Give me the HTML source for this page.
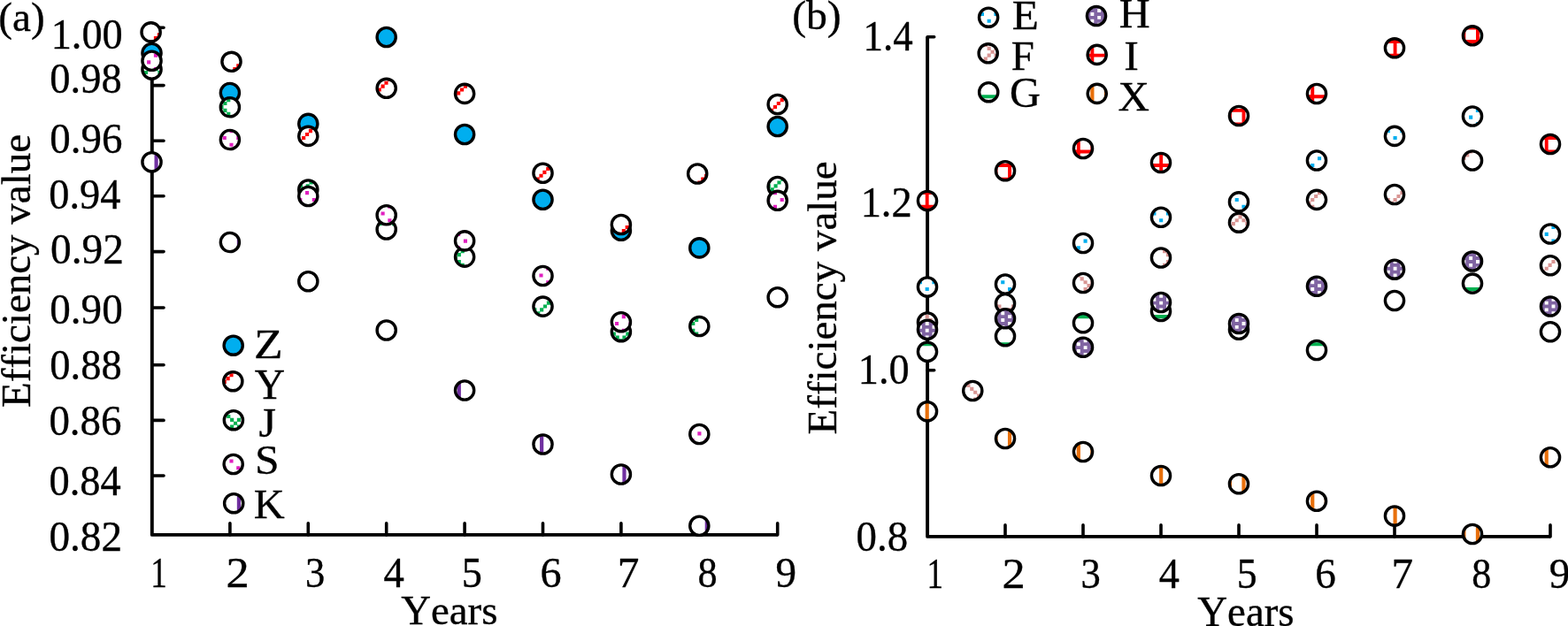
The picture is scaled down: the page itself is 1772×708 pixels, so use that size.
<!DOCTYPE html>
<html><head><meta charset="utf-8"><title>Efficiency value vs Years</title>
<style>
html,body{margin:0;padding:0;background:#fff;}
svg{display:block;}
text{font-family:"Liberation Serif",serif;font-size:47.0px;fill:#000;font-kerning:none;stroke:#000;stroke-width:0.35px;}
</style></head><body>
<svg width="1772" height="708" viewBox="0 0 1772 708">
<rect width="1772" height="708" fill="#fff"/>
<defs>
<clipPath id="c1"><circle cx="170.6" cy="36.4" r="10.6"/></clipPath>
<clipPath id="c2"><circle cx="261.5" cy="69.8" r="10.6"/></clipPath>
<clipPath id="c3"><circle cx="348.3" cy="153.9" r="10.6"/></clipPath>
<clipPath id="c4"><circle cx="436.7" cy="99.8" r="10.6"/></clipPath>
<clipPath id="c5"><circle cx="525.1" cy="105.9" r="10.6"/></clipPath>
<clipPath id="c6"><circle cx="613.5" cy="195.75" r="10.6"/></clipPath>
<clipPath id="c7"><circle cx="701.9" cy="254" r="10.6"/></clipPath>
<clipPath id="c8"><circle cx="788.2" cy="196.5" r="10.6"/></clipPath>
<clipPath id="c9"><circle cx="878.7" cy="118" r="10.6"/></clipPath>
<clipPath id="c10"><circle cx="171.5" cy="78.5" r="10.6"/></clipPath>
<clipPath id="c11"><circle cx="259.9" cy="121.25" r="10.6"/></clipPath>
<clipPath id="c12"><circle cx="348.3" cy="214.5" r="10.6"/></clipPath>
<clipPath id="c13"><circle cx="436.7" cy="259.5" r="10.6"/></clipPath>
<clipPath id="c14"><circle cx="525.1" cy="290.6" r="10.6"/></clipPath>
<clipPath id="c15"><circle cx="613.5" cy="346.6" r="10.6"/></clipPath>
<clipPath id="c16"><circle cx="701.9" cy="375.2" r="10.6"/></clipPath>
<clipPath id="c17"><circle cx="790.3" cy="369" r="10.6"/></clipPath>
<clipPath id="c18"><circle cx="878.7" cy="211" r="10.6"/></clipPath>
<clipPath id="c19"><circle cx="171.5" cy="68.75" r="10.6"/></clipPath>
<clipPath id="c20"><circle cx="259.9" cy="158" r="10.6"/></clipPath>
<clipPath id="c21"><circle cx="348.3" cy="222" r="10.6"/></clipPath>
<clipPath id="c22"><circle cx="436.7" cy="243.25" r="10.6"/></clipPath>
<clipPath id="c23"><circle cx="525.1" cy="272.4" r="10.6"/></clipPath>
<clipPath id="c24"><circle cx="613.5" cy="312" r="10.6"/></clipPath>
<clipPath id="c25"><circle cx="701.9" cy="364.2" r="10.6"/></clipPath>
<clipPath id="c26"><circle cx="790.3" cy="491" r="10.6"/></clipPath>
<clipPath id="c27"><circle cx="878.7" cy="226.8" r="10.6"/></clipPath>
<clipPath id="c28"><circle cx="171.5" cy="183.25" r="10.6"/></clipPath>
<clipPath id="c29"><circle cx="259.9" cy="274" r="10.6"/></clipPath>
<clipPath id="c31"><circle cx="436.7" cy="373.5" r="10.6"/></clipPath>
<clipPath id="c32"><circle cx="525.1" cy="441.5" r="10.6"/></clipPath>
<clipPath id="c33"><circle cx="613.5" cy="502.5" r="10.6"/></clipPath>
<clipPath id="c34"><circle cx="701.9" cy="536.5" r="10.6"/></clipPath>
<clipPath id="c35"><circle cx="790.3" cy="594.75" r="10.6"/></clipPath>
<clipPath id="c37"><circle cx="1048" cy="324.5" r="10.6"/></clipPath>
<clipPath id="c38"><circle cx="1136" cy="321.5" r="10.6"/></clipPath>
<clipPath id="c39"><circle cx="1224" cy="275" r="10.6"/></clipPath>
<clipPath id="c40"><circle cx="1312" cy="245.75" r="10.6"/></clipPath>
<clipPath id="c41"><circle cx="1400" cy="228.4" r="10.6"/></clipPath>
<clipPath id="c42"><circle cx="1488" cy="181.5" r="10.6"/></clipPath>
<clipPath id="c43"><circle cx="1576" cy="153.9" r="10.6"/></clipPath>
<clipPath id="c44"><circle cx="1664" cy="131.5" r="10.6"/></clipPath>
<clipPath id="c45"><circle cx="1752" cy="264.5" r="10.6"/></clipPath>
<clipPath id="c46"><circle cx="1048" cy="364.5" r="10.6"/></clipPath>
<clipPath id="c47"><circle cx="1099.25" cy="442" r="10.6"/></clipPath>
<clipPath id="c48"><circle cx="1136" cy="343.25" r="10.6"/></clipPath>
<clipPath id="c49"><circle cx="1224" cy="320" r="10.6"/></clipPath>
<clipPath id="c50"><circle cx="1312" cy="291.5" r="10.6"/></clipPath>
<clipPath id="c51"><circle cx="1400" cy="251.7" r="10.6"/></clipPath>
<clipPath id="c52"><circle cx="1488" cy="225.85" r="10.6"/></clipPath>
<clipPath id="c53"><circle cx="1576" cy="220" r="10.6"/></clipPath>
<clipPath id="c54"><circle cx="1664" cy="181.5" r="10.6"/></clipPath>
<clipPath id="c55"><circle cx="1752" cy="300.25" r="10.6"/></clipPath>
<clipPath id="c56"><circle cx="1048" cy="397.75" r="10.6"/></clipPath>
<clipPath id="c57"><circle cx="1136" cy="380.25" r="10.6"/></clipPath>
<clipPath id="c58"><circle cx="1224" cy="365.25" r="10.6"/></clipPath>
<clipPath id="c59"><circle cx="1312" cy="352" r="10.6"/></clipPath>
<clipPath id="c61"><circle cx="1488" cy="396" r="10.6"/></clipPath>
<clipPath id="c63"><circle cx="1664" cy="320.6" r="10.6"/></clipPath>
<clipPath id="c65"><circle cx="1048" cy="372.75" r="10.6"/></clipPath>
<clipPath id="c66"><circle cx="1136" cy="360.25" r="10.6"/></clipPath>
<clipPath id="c67"><circle cx="1224" cy="392.75" r="10.6"/></clipPath>
<clipPath id="c68"><circle cx="1312" cy="342" r="10.6"/></clipPath>
<clipPath id="c69"><circle cx="1400" cy="366" r="10.6"/></clipPath>
<clipPath id="c70"><circle cx="1488" cy="323.75" r="10.6"/></clipPath>
<clipPath id="c71"><circle cx="1576" cy="304.7" r="10.6"/></clipPath>
<clipPath id="c72"><circle cx="1664" cy="295.5" r="10.6"/></clipPath>
<clipPath id="c73"><circle cx="1752" cy="346.5" r="10.6"/></clipPath>
<clipPath id="c74"><circle cx="1048" cy="227" r="10.6"/></clipPath>
<clipPath id="c75"><circle cx="1136" cy="193.25" r="10.6"/></clipPath>
<clipPath id="c76"><circle cx="1224" cy="168" r="10.6"/></clipPath>
<clipPath id="c77"><circle cx="1312" cy="184" r="10.6"/></clipPath>
<clipPath id="c78"><circle cx="1400" cy="131" r="10.6"/></clipPath>
<clipPath id="c79"><circle cx="1488" cy="106" r="10.6"/></clipPath>
<clipPath id="c80"><circle cx="1576" cy="54.3" r="10.6"/></clipPath>
<clipPath id="c81"><circle cx="1664" cy="40.3" r="10.6"/></clipPath>
<clipPath id="c82"><circle cx="1752" cy="163" r="10.6"/></clipPath>
<clipPath id="c83"><circle cx="1048" cy="465.25" r="10.6"/></clipPath>
<clipPath id="c84"><circle cx="1136" cy="496" r="10.6"/></clipPath>
<clipPath id="c85"><circle cx="1224" cy="511" r="10.6"/></clipPath>
<clipPath id="c86"><circle cx="1312" cy="538" r="10.6"/></clipPath>
<clipPath id="c87"><circle cx="1400" cy="547.25" r="10.6"/></clipPath>
<clipPath id="c88"><circle cx="1488" cy="566.75" r="10.6"/></clipPath>
<clipPath id="c89"><circle cx="1576" cy="583.5" r="10.6"/></clipPath>
<clipPath id="c90"><circle cx="1664" cy="604" r="10.6"/></clipPath>
<clipPath id="c91"><circle cx="1752" cy="517.25" r="10.6"/></clipPath>
<clipPath id="c92"><circle cx="263.3" cy="431.2" r="10.6"/></clipPath>
<clipPath id="c93"><circle cx="263.9" cy="475.2" r="10.6"/></clipPath>
<clipPath id="c94"><circle cx="263.7" cy="525" r="10.6"/></clipPath>
<clipPath id="c95"><circle cx="264.2" cy="569.2" r="10.6"/></clipPath>
<clipPath id="c96"><circle cx="1117.1" cy="19.7" r="10.6"/></clipPath>
<clipPath id="c97"><circle cx="1116.7" cy="60.3" r="10.6"/></clipPath>
<clipPath id="c98"><circle cx="1117.2" cy="104.2" r="10.6"/></clipPath>
<clipPath id="c99"><circle cx="1239" cy="18" r="10.6"/></clipPath>
<clipPath id="c100"><circle cx="1239.7" cy="61.9" r="10.6"/></clipPath>
<clipPath id="c101"><circle cx="1239.75" cy="105.85" r="10.6"/></clipPath>
</defs>
<path d="M171.8 31.3V604.9H878.7" fill="none" stroke="#000" stroke-width="3.9" stroke-linecap="butt" stroke-linejoin="round"/>
<path d="M259.9 604.9v-13.2M348.3 604.9v-13.2M436.7 604.9v-13.2M525.1 604.9v-13.2M613.5 604.9v-13.2M701.9 604.9v-13.2M790.3 604.9v-13.2M878.7 604.9v-13.2M171.8 31.3h13.2M171.8 96.6h13.2M171.8 159.2h13.2M171.8 221.8h13.2M171.8 284.6h13.2M171.8 348h13.2M171.8 412.7h13.2M171.8 475.4h13.2M171.8 538h13.2" fill="none" stroke="#000" stroke-width="3.6" stroke-linecap="round"/>
<path d="M1048.1 41.7V606.9H1752" fill="none" stroke="#000" stroke-width="3.9" stroke-linecap="butt" stroke-linejoin="round"/>
<path d="M1136 606.9v-13.2M1224 606.9v-13.2M1312 606.9v-13.2M1400 606.9v-13.2M1488 606.9v-13.2M1576 606.9v-13.2M1664 606.9v-13.2M1752 606.9v-13.2M1048.1 41.7h7.6M1048.1 230h7.6M1048.1 418.7h7.6" fill="none" stroke="#000" stroke-width="3.6" stroke-linecap="round"/>
<text transform="translate(57.72 55) scale(0.9843 1.03)">1.00</text>
<text transform="translate(56.32 105.2) scale(0.9892 1.03)">0.98</text>
<text transform="translate(56.3 173.2) scale(0.9987 1.03)">0.96</text>
<text transform="translate(55.33 235.8) scale(0.9856 1.03)">0.94</text>
<text transform="translate(57.09 298.3) scale(1.0064 1.03)">0.92</text>
<text transform="translate(56.3 366.4) scale(1.0019 1.03)">0.90</text>
<text transform="translate(56.32 429.3) scale(0.9892 1.03)">0.88</text>
<text transform="translate(55.4 492.2) scale(0.9987 1.03)">0.86</text>
<text transform="translate(55.42 560.1) scale(0.9881 1.03)">0.84</text>
<text transform="translate(55.39 622.8) scale(1.0051 1.03)">0.82</text>
<text transform="translate(975.59 56.5) scale(0.9563 1.03)">1.4</text>
<text transform="translate(972.66 245.4) scale(0.9865 1.03)">1.2</text>
<text transform="translate(969.87 434.1) scale(0.9839 1.03)">1.0</text>
<text transform="translate(967.5 623.4) scale(0.9973 1.03)">0.8</text>
<text transform="translate(170.2 663.5) scale(0.7879 1.03)">1</text>
<text transform="translate(1047.5 665.2) scale(0.7879 1.03)">1</text>
<text transform="translate(255.52 663.5) scale(1.1158 1.03)">2</text>
<text transform="translate(1132.52 665.2) scale(1.1158 1.03)">2</text>
<text transform="translate(345.02 663.5) scale(0.9487 1.03)">3</text>
<text transform="translate(1221.62 665.2) scale(0.9487 1.03)">3</text>
<text transform="translate(433.46 663.5) scale(0.9931 1.03)">4</text>
<text transform="translate(1309.87 665.2) scale(0.9839 1.03)">4</text>
<text transform="translate(521.84 663.5) scale(0.9842 1.03)">5</text>
<text transform="translate(1397.77 665.2) scale(0.9737 1.03)">5</text>
<text transform="translate(610.5 663.5) scale(1.0250 1.03)">6</text>
<text transform="translate(1486.24 665.2) scale(1.0050 1.03)">6</text>
<text transform="translate(697.7 663.5) scale(1.0494 1.03)">7</text>
<text transform="translate(1572.42 665.2) scale(1.0442 1.03)">7</text>
<text transform="translate(788.6 663.5) scale(0.9425 1.03)">8</text>
<text transform="translate(1663.31 665.2) scale(0.9400 1.03)">8</text>
<text transform="translate(876.5 663.5) scale(1.0025 1.03)">9</text>
<text transform="translate(1750.85 665.2) scale(1.0000 1.03)">9</text>
<text transform="translate(453.25 705.7) scale(0.9963 1.01)">Years</text>
<text transform="translate(1353.25 707.8) scale(0.9972 1.01)">Years</text>
<text transform="translate(34.4 461.05) rotate(-90) scale(1.0 1.01)">Efficiency value</text>
<text transform="translate(945.4 491.45) rotate(-90) scale(1.0 1.01)">Efficiency value</text>
<text transform="translate(-1.76 34.7) scale(1.0042 1.01)">(a)</text>
<text transform="translate(895.17 32.6) scale(1.0138 1.01)">(b)</text>
<circle cx="171.5" cy="60" r="10.6" fill="#00AEEF" stroke="#000" stroke-width="3.4"/>
<circle cx="259.9" cy="105" r="10.6" fill="#00AEEF" stroke="#000" stroke-width="3.4"/>
<circle cx="348.3" cy="139.9" r="10.6" fill="#00AEEF" stroke="#000" stroke-width="3.4"/>
<circle cx="436.7" cy="42" r="10.6" fill="#00AEEF" stroke="#000" stroke-width="3.4"/>
<circle cx="525.1" cy="152" r="10.6" fill="#00AEEF" stroke="#000" stroke-width="3.4"/>
<circle cx="613.5" cy="225.75" r="10.6" fill="#00AEEF" stroke="#000" stroke-width="3.4"/>
<circle cx="701.9" cy="260.75" r="10.6" fill="#00AEEF" stroke="#000" stroke-width="3.4"/>
<circle cx="790.3" cy="280.4" r="10.6" fill="#00AEEF" stroke="#000" stroke-width="3.4"/>
<circle cx="878.7" cy="143" r="10.6" fill="#00AEEF" stroke="#000" stroke-width="3.4"/>
<circle cx="170.6" cy="36.4" r="10.6" fill="#fff"/>
<path d="M177.77 37.21h4.13v4.13h-4.13zM173.88 41.1h4.13v4.13h-4.13zM169.99 44.99h4.13v4.13h-4.13z" fill="#FF0000" fill-rule="nonzero" clip-path="url(#c1)"/>
<circle cx="170.6" cy="36.4" r="10.6" fill="none" stroke="#000" stroke-width="3.4"/>
<circle cx="261.5" cy="69.8" r="10.6" fill="#fff"/>
<path d="M271.1 68.32h4.13v4.13h-4.13zM267.21 72.21h4.13v4.13h-4.13zM263.33 76.1h4.13v4.13h-4.13zM259.44 79.99h4.13v4.13h-4.13z" fill="#FF0000" fill-rule="nonzero" clip-path="url(#c2)"/>
<circle cx="261.5" cy="69.8" r="10.6" fill="none" stroke="#000" stroke-width="3.4"/>
<circle cx="348.3" cy="153.9" r="10.6" fill="#fff"/>
<path d="M352.77 142.21h4.13v4.13h-4.13zM348.88 146.1h4.13v4.13h-4.13zM344.99 149.99h4.13v4.13h-4.13zM341.1 153.88h4.13v4.13h-4.13zM337.21 157.77h4.13v4.13h-4.13z" fill="#FF0000" fill-rule="nonzero" clip-path="url(#c3)"/>
<circle cx="348.3" cy="153.9" r="10.6" fill="none" stroke="#000" stroke-width="3.4"/>
<circle cx="436.7" cy="99.8" r="10.6" fill="#fff"/>
<path d="M438.33 87.77h4.13v4.13h-4.13zM434.44 91.65h4.13v4.13h-4.13zM430.55 95.54h4.13v4.13h-4.13zM426.66 99.43h4.13v4.13h-4.13zM422.77 103.32h4.13v4.13h-4.13z" fill="#FF0000" fill-rule="nonzero" clip-path="url(#c4)"/>
<circle cx="436.7" cy="99.8" r="10.6" fill="none" stroke="#000" stroke-width="3.4"/>
<circle cx="525.1" cy="105.9" r="10.6" fill="#fff"/>
<path d="M523.88 95.54h4.13v4.13h-4.13zM519.99 99.43h4.13v4.13h-4.13zM516.1 103.32h4.13v4.13h-4.13zM512.21 107.21h4.13v4.13h-4.13z" fill="#FF0000" fill-rule="nonzero" clip-path="url(#c5)"/>
<circle cx="525.1" cy="105.9" r="10.6" fill="none" stroke="#000" stroke-width="3.4"/>
<circle cx="613.5" cy="195.75" r="10.6" fill="#fff"/>
<path d="M621.1 184.99h4.13v4.13h-4.13zM617.22 188.88h4.13v4.13h-4.13zM613.33 192.77h4.13v4.13h-4.13zM609.44 196.66h4.13v4.13h-4.13zM605.55 200.54h4.13v4.13h-4.13z" fill="#FF0000" fill-rule="nonzero" clip-path="url(#c6)"/>
<circle cx="613.5" cy="195.75" r="10.6" fill="none" stroke="#000" stroke-width="3.4"/>
<circle cx="701.9" cy="254" r="10.6" fill="#fff"/>
<path d="M710.55 251.1h4.13v4.13h-4.13zM706.66 254.99h4.13v4.13h-4.13zM702.77 258.88h4.13v4.13h-4.13zM698.88 262.77h4.13v4.13h-4.13z" fill="#FF0000" fill-rule="nonzero" clip-path="url(#c7)"/>
<circle cx="701.9" cy="254" r="10.6" fill="none" stroke="#000" stroke-width="3.4"/>
<circle cx="788.2" cy="196.5" r="10.6" fill="#fff"/>
<path d="M796.1 196.66h4.13v4.13h-4.13zM792.22 200.54h4.13v4.13h-4.13zM788.33 204.43h4.13v4.13h-4.13z" fill="#FF0000" fill-rule="nonzero" clip-path="url(#c8)"/>
<circle cx="788.2" cy="196.5" r="10.6" fill="none" stroke="#000" stroke-width="3.4"/>
<circle cx="878.7" cy="118" r="10.6" fill="#fff"/>
<path d="M885.55 107.21h4.13v4.13h-4.13zM881.66 111.1h4.13v4.13h-4.13zM877.77 114.99h4.13v4.13h-4.13zM873.88 118.88h4.13v4.13h-4.13zM869.99 122.77h4.13v4.13h-4.13z" fill="#FF0000" fill-rule="nonzero" clip-path="url(#c9)"/>
<circle cx="878.7" cy="118" r="10.6" fill="none" stroke="#000" stroke-width="3.4"/>
<circle cx="171.5" cy="78.5" r="10.6" fill="#fff"/>
<path d="M166.75 68.32h4.13v4.13h-4.13zM174.53 68.32h4.13v4.13h-4.13zM170.64 72.21h4.13v4.13h-4.13zM166.75 76.1h4.13v4.13h-4.13zM174.53 76.1h4.13v4.13h-4.13zM162.86 79.99h4.13v4.13h-4.13zM178.42 79.99h4.13v4.13h-4.13zM158.97 83.88h4.13v4.13h-4.13z" fill="#00B050" fill-rule="nonzero" clip-path="url(#c10)"/>
<circle cx="171.5" cy="78.5" r="10.6" fill="none" stroke="#000" stroke-width="3.4"/>
<circle cx="259.9" cy="121.25" r="10.6" fill="#fff"/>
<path d="M260.09 107.21h4.13v4.13h-4.13zM256.2 111.1h4.13v4.13h-4.13zM252.31 114.99h4.13v4.13h-4.13zM248.42 118.88h4.13v4.13h-4.13zM252.31 122.77h4.13v4.13h-4.13zM256.2 126.65h4.13v4.13h-4.13zM260.09 130.54h4.13v4.13h-4.13z" fill="#00B050" fill-rule="nonzero" clip-path="url(#c11)"/>
<circle cx="259.9" cy="121.25" r="10.6" fill="none" stroke="#000" stroke-width="3.4"/>
<circle cx="348.3" cy="214.5" r="10.6" fill="#fff"/>
<path d="M349.53 204.43h4.13v4.13h-4.13zM337.86 208.32h4.13v4.13h-4.13zM345.64 208.32h4.13v4.13h-4.13zM341.75 212.21h4.13v4.13h-4.13zM337.86 216.1h4.13v4.13h-4.13zM345.64 216.1h4.13v4.13h-4.13zM349.53 219.99h4.13v4.13h-4.13z" fill="#00B050" fill-rule="nonzero" clip-path="url(#c12)"/>
<circle cx="348.3" cy="214.5" r="10.6" fill="none" stroke="#000" stroke-width="3.4"/>
<circle cx="436.7" cy="259.5" r="10.6" fill="#fff"/>
<path d="M431.2 247.21h4.13v4.13h-4.13zM438.98 247.21h4.13v4.13h-4.13zM427.31 251.1h4.13v4.13h-4.13zM442.86 251.1h4.13v4.13h-4.13zM423.42 254.99h4.13v4.13h-4.13zM446.75 254.99h4.13v4.13h-4.13zM423.42 262.77h4.13v4.13h-4.13zM427.31 266.66h4.13v4.13h-4.13zM442.86 266.66h4.13v4.13h-4.13z" fill="#00B050" fill-rule="nonzero" clip-path="url(#c13)"/>
<circle cx="436.7" cy="259.5" r="10.6" fill="none" stroke="#000" stroke-width="3.4"/>
<circle cx="525.1" cy="290.6" r="10.6" fill="#fff"/>
<path d="M524.53 278.32h4.13v4.13h-4.13zM520.64 282.21h4.13v4.13h-4.13zM516.75 286.1h4.13v4.13h-4.13zM512.86 289.99h4.13v4.13h-4.13zM516.75 293.88h4.13v4.13h-4.13zM520.64 297.77h4.13v4.13h-4.13z" fill="#00B050" fill-rule="nonzero" clip-path="url(#c14)"/>
<circle cx="525.1" cy="290.6" r="10.6" fill="none" stroke="#000" stroke-width="3.4"/>
<circle cx="613.5" cy="346.6" r="10.6" fill="#fff"/>
<path d="M621.75 336.66h4.13v4.13h-4.13zM617.87 340.54h4.13v4.13h-4.13zM613.98 344.43h4.13v4.13h-4.13zM602.31 348.32h4.13v4.13h-4.13zM610.09 348.32h4.13v4.13h-4.13zM606.2 352.21h4.13v4.13h-4.13zM610.09 356.1h4.13v4.13h-4.13z" fill="#00B050" fill-rule="nonzero" clip-path="url(#c15)"/>
<circle cx="613.5" cy="346.6" r="10.6" fill="none" stroke="#000" stroke-width="3.4"/>
<circle cx="701.9" cy="375.2" r="10.6" fill="#fff"/>
<path d="M687.87 371.66h4.13v4.13h-4.13zM711.2 371.66h4.13v4.13h-4.13zM691.75 375.54h4.13v4.13h-4.13zM707.31 375.54h4.13v4.13h-4.13zM695.64 379.43h4.13v4.13h-4.13zM703.42 379.43h4.13v4.13h-4.13zM699.53 383.32h4.13v4.13h-4.13z" fill="#00B050" fill-rule="nonzero" clip-path="url(#c16)"/>
<circle cx="701.9" cy="375.2" r="10.6" fill="none" stroke="#000" stroke-width="3.4"/>
<circle cx="790.3" cy="369" r="10.6" fill="#fff"/>
<path d="M788.98 356.1h4.13v4.13h-4.13zM785.09 359.99h4.13v4.13h-4.13zM781.2 363.88h4.13v4.13h-4.13zM777.31 367.77h4.13v4.13h-4.13zM781.2 371.66h4.13v4.13h-4.13zM785.09 375.54h4.13v4.13h-4.13zM788.98 379.43h4.13v4.13h-4.13z" fill="#00B050" fill-rule="nonzero" clip-path="url(#c17)"/>
<circle cx="790.3" cy="369" r="10.6" fill="none" stroke="#000" stroke-width="3.4"/>
<circle cx="878.7" cy="211" r="10.6" fill="#fff"/>
<path d="M882.31 200.54h4.13v4.13h-4.13zM878.42 204.43h4.13v4.13h-4.13zM866.75 208.32h4.13v4.13h-4.13zM874.53 208.32h4.13v4.13h-4.13zM870.64 212.21h4.13v4.13h-4.13zM866.75 216.1h4.13v4.13h-4.13zM874.53 216.1h4.13v4.13h-4.13zM878.42 219.99h4.13v4.13h-4.13z" fill="#00B050" fill-rule="nonzero" clip-path="url(#c18)"/>
<circle cx="878.7" cy="211" r="10.6" fill="none" stroke="#000" stroke-width="3.4"/>
<circle cx="171.5" cy="68.75" r="10.6" fill="#fff"/>
<path d="M158.32 60.54h4.13v4.13h-4.13zM173.88 60.54h4.13v4.13h-4.13zM166.1 68.32h4.13v4.13h-4.13zM181.66 68.32h4.13v4.13h-4.13zM173.88 76.1h4.13v4.13h-4.13z" fill="#E020C0" fill-rule="nonzero" clip-path="url(#c19)"/>
<circle cx="171.5" cy="68.75" r="10.6" fill="none" stroke="#000" stroke-width="3.4"/>
<circle cx="259.9" cy="158" r="10.6" fill="#fff"/>
<path d="M259.44 146.1h4.13v4.13h-4.13zM251.66 153.88h4.13v4.13h-4.13zM267.21 153.88h4.13v4.13h-4.13zM259.44 161.65h4.13v4.13h-4.13z" fill="#E020C0" fill-rule="nonzero" clip-path="url(#c20)"/>
<circle cx="259.9" cy="158" r="10.6" fill="none" stroke="#000" stroke-width="3.4"/>
<circle cx="348.3" cy="222" r="10.6" fill="#fff"/>
<path d="M344.99 216.1h4.13v4.13h-4.13zM337.21 223.88h4.13v4.13h-4.13zM352.77 223.88h4.13v4.13h-4.13zM344.99 231.66h4.13v4.13h-4.13z" fill="#E020C0" fill-rule="nonzero" clip-path="url(#c21)"/>
<circle cx="348.3" cy="222" r="10.6" fill="none" stroke="#000" stroke-width="3.4"/>
<circle cx="436.7" cy="243.25" r="10.6" fill="#fff"/>
<path d="M438.33 231.66h4.13v4.13h-4.13zM430.55 239.43h4.13v4.13h-4.13zM446.1 239.43h4.13v4.13h-4.13zM438.33 247.21h4.13v4.13h-4.13z" fill="#E020C0" fill-rule="nonzero" clip-path="url(#c22)"/>
<circle cx="436.7" cy="243.25" r="10.6" fill="none" stroke="#000" stroke-width="3.4"/>
<circle cx="525.1" cy="272.4" r="10.6" fill="#fff"/>
<path d="M516.1 262.77h4.13v4.13h-4.13zM531.66 262.77h4.13v4.13h-4.13zM523.88 270.54h4.13v4.13h-4.13zM516.1 278.32h4.13v4.13h-4.13zM531.66 278.32h4.13v4.13h-4.13z" fill="#E020C0" fill-rule="nonzero" clip-path="url(#c23)"/>
<circle cx="525.1" cy="272.4" r="10.6" fill="none" stroke="#000" stroke-width="3.4"/>
<circle cx="613.5" cy="312" r="10.6" fill="#fff"/>
<path d="M601.66 301.66h4.13v4.13h-4.13zM617.22 301.66h4.13v4.13h-4.13zM609.44 309.43h4.13v4.13h-4.13zM601.66 317.21h4.13v4.13h-4.13zM617.22 317.21h4.13v4.13h-4.13z" fill="#E020C0" fill-rule="nonzero" clip-path="url(#c24)"/>
<circle cx="613.5" cy="312" r="10.6" fill="none" stroke="#000" stroke-width="3.4"/>
<circle cx="701.9" cy="364.2" r="10.6" fill="#fff"/>
<path d="M702.77 356.1h4.13v4.13h-4.13zM694.99 363.88h4.13v4.13h-4.13zM710.55 363.88h4.13v4.13h-4.13zM702.77 371.66h4.13v4.13h-4.13z" fill="#E020C0" fill-rule="nonzero" clip-path="url(#c25)"/>
<circle cx="701.9" cy="364.2" r="10.6" fill="none" stroke="#000" stroke-width="3.4"/>
<circle cx="790.3" cy="491" r="10.6" fill="#fff"/>
<path d="M780.55 480.54h4.13v4.13h-4.13zM796.1 480.54h4.13v4.13h-4.13zM788.33 488.32h4.13v4.13h-4.13zM780.55 496.1h4.13v4.13h-4.13zM796.1 496.1h4.13v4.13h-4.13z" fill="#E020C0" fill-rule="nonzero" clip-path="url(#c26)"/>
<circle cx="790.3" cy="491" r="10.6" fill="none" stroke="#000" stroke-width="3.4"/>
<circle cx="878.7" cy="226.8" r="10.6" fill="#fff"/>
<path d="M873.88 216.1h4.13v4.13h-4.13zM866.1 223.88h4.13v4.13h-4.13zM881.66 223.88h4.13v4.13h-4.13zM873.88 231.66h4.13v4.13h-4.13z" fill="#E020C0" fill-rule="nonzero" clip-path="url(#c27)"/>
<circle cx="878.7" cy="226.8" r="10.6" fill="none" stroke="#000" stroke-width="3.4"/>
<circle cx="171.5" cy="183.25" r="10.6" fill="#fff"/>
<path d="M174.5 171.65h4.19v23.2h-4.19z" fill="#7030A0" fill-rule="nonzero" clip-path="url(#c28)"/>
<circle cx="171.5" cy="183.25" r="10.6" fill="none" stroke="#000" stroke-width="3.4"/>
<circle cx="259.9" cy="274" r="10.6" fill="#fff"/>
<path d="M267.83 262.4h4.19v23.2h-4.19z" fill="#7030A0" fill-rule="nonzero" clip-path="url(#c29)"/>
<circle cx="259.9" cy="274" r="10.6" fill="none" stroke="#000" stroke-width="3.4"/>
<circle cx="348.3" cy="318.25" r="10.6" fill="#fff"/>
<circle cx="348.3" cy="318.25" r="10.6" fill="none" stroke="#000" stroke-width="3.4"/>
<circle cx="436.7" cy="373.5" r="10.6" fill="#fff"/>
<path d="M423.39 361.9h4.19v23.2h-4.19z" fill="#7030A0" fill-rule="nonzero" clip-path="url(#c31)"/>
<circle cx="436.7" cy="373.5" r="10.6" fill="none" stroke="#000" stroke-width="3.4"/>
<circle cx="525.1" cy="441.5" r="10.6" fill="#fff"/>
<path d="M516.72 429.9h4.19v23.2h-4.19z" fill="#7030A0" fill-rule="nonzero" clip-path="url(#c32)"/>
<circle cx="525.1" cy="441.5" r="10.6" fill="none" stroke="#000" stroke-width="3.4"/>
<circle cx="613.5" cy="502.5" r="10.6" fill="#fff"/>
<path d="M610.06 490.9h4.19v23.2h-4.19z" fill="#7030A0" fill-rule="nonzero" clip-path="url(#c33)"/>
<circle cx="613.5" cy="502.5" r="10.6" fill="none" stroke="#000" stroke-width="3.4"/>
<circle cx="701.9" cy="536.5" r="10.6" fill="#fff"/>
<path d="M703.39 524.9h4.19v23.2h-4.19z" fill="#7030A0" fill-rule="nonzero" clip-path="url(#c34)"/>
<circle cx="701.9" cy="536.5" r="10.6" fill="none" stroke="#000" stroke-width="3.4"/>
<circle cx="790.3" cy="594.75" r="10.6" fill="#fff"/>
<path d="M796.72 583.15h4.19v23.2h-4.19z" fill="#7030A0" fill-rule="nonzero" clip-path="url(#c35)"/>
<circle cx="790.3" cy="594.75" r="10.6" fill="none" stroke="#000" stroke-width="3.4"/>
<circle cx="878.7" cy="336.2" r="10.6" fill="#fff"/>
<circle cx="878.7" cy="336.2" r="10.6" fill="none" stroke="#000" stroke-width="3.4"/>
<circle cx="1048" cy="324.5" r="10.6" fill="#fff"/>
<path d="M1037.87 317.21h4.13v4.13h-4.13zM1053.42 317.21h4.13v4.13h-4.13zM1045.64 324.99h4.13v4.13h-4.13zM1037.87 332.77h4.13v4.13h-4.13zM1053.42 332.77h4.13v4.13h-4.13z" fill="#00AEEF" fill-rule="nonzero" clip-path="url(#c37)"/>
<circle cx="1048" cy="324.5" r="10.6" fill="none" stroke="#000" stroke-width="3.4"/>
<circle cx="1136" cy="321.5" r="10.6" fill="#fff"/>
<path d="M1138.98 309.43h4.13v4.13h-4.13zM1131.2 317.21h4.13v4.13h-4.13zM1123.42 324.99h4.13v4.13h-4.13zM1138.98 324.99h4.13v4.13h-4.13z" fill="#00AEEF" fill-rule="nonzero" clip-path="url(#c38)"/>
<circle cx="1136" cy="321.5" r="10.6" fill="none" stroke="#000" stroke-width="3.4"/>
<circle cx="1224" cy="275" r="10.6" fill="#fff"/>
<path d="M1216.76 262.77h4.13v4.13h-4.13zM1224.53 270.54h4.13v4.13h-4.13zM1216.76 278.32h4.13v4.13h-4.13zM1232.31 278.32h4.13v4.13h-4.13z" fill="#00AEEF" fill-rule="nonzero" clip-path="url(#c39)"/>
<circle cx="1224" cy="275" r="10.6" fill="none" stroke="#000" stroke-width="3.4"/>
<circle cx="1312" cy="245.75" r="10.6" fill="#fff"/>
<path d="M1310.09 231.66h4.13v4.13h-4.13zM1302.31 239.43h4.13v4.13h-4.13zM1317.87 239.43h4.13v4.13h-4.13zM1310.09 247.21h4.13v4.13h-4.13z" fill="#00AEEF" fill-rule="nonzero" clip-path="url(#c40)"/>
<circle cx="1312" cy="245.75" r="10.6" fill="none" stroke="#000" stroke-width="3.4"/>
<circle cx="1400" cy="228.4" r="10.6" fill="#fff"/>
<path d="M1403.42 216.1h4.13v4.13h-4.13zM1395.65 223.88h4.13v4.13h-4.13zM1387.87 231.66h4.13v4.13h-4.13zM1403.42 231.66h4.13v4.13h-4.13z" fill="#00AEEF" fill-rule="nonzero" clip-path="url(#c41)"/>
<circle cx="1400" cy="228.4" r="10.6" fill="none" stroke="#000" stroke-width="3.4"/>
<circle cx="1488" cy="181.5" r="10.6" fill="#fff"/>
<path d="M1481.2 169.43h4.13v4.13h-4.13zM1473.42 177.21h4.13v4.13h-4.13zM1488.98 177.21h4.13v4.13h-4.13zM1481.2 184.99h4.13v4.13h-4.13zM1496.76 184.99h4.13v4.13h-4.13z" fill="#00AEEF" fill-rule="nonzero" clip-path="url(#c42)"/>
<circle cx="1488" cy="181.5" r="10.6" fill="none" stroke="#000" stroke-width="3.4"/>
<circle cx="1576" cy="153.9" r="10.6" fill="#fff"/>
<path d="M1566.76 146.1h4.13v4.13h-4.13zM1582.31 146.1h4.13v4.13h-4.13zM1574.53 153.88h4.13v4.13h-4.13zM1566.76 161.65h4.13v4.13h-4.13zM1582.31 161.65h4.13v4.13h-4.13z" fill="#00AEEF" fill-rule="nonzero" clip-path="url(#c43)"/>
<circle cx="1576" cy="153.9" r="10.6" fill="none" stroke="#000" stroke-width="3.4"/>
<circle cx="1664" cy="131.5" r="10.6" fill="#fff"/>
<path d="M1652.31 122.77h4.13v4.13h-4.13zM1667.87 122.77h4.13v4.13h-4.13zM1660.09 130.54h4.13v4.13h-4.13zM1652.31 138.32h4.13v4.13h-4.13zM1667.87 138.32h4.13v4.13h-4.13z" fill="#00AEEF" fill-rule="nonzero" clip-path="url(#c44)"/>
<circle cx="1664" cy="131.5" r="10.6" fill="none" stroke="#000" stroke-width="3.4"/>
<circle cx="1752" cy="264.5" r="10.6" fill="#fff"/>
<path d="M1753.42 254.99h4.13v4.13h-4.13zM1745.65 262.77h4.13v4.13h-4.13zM1761.2 262.77h4.13v4.13h-4.13zM1753.42 270.54h4.13v4.13h-4.13z" fill="#00AEEF" fill-rule="nonzero" clip-path="url(#c45)"/>
<circle cx="1752" cy="264.5" r="10.6" fill="none" stroke="#000" stroke-width="3.4"/>
<circle cx="1048" cy="364.5" r="10.6" fill="#fff"/>
<path d="M1041.76 352.21h4.13v4.13h-4.13zM1037.87 356.1h4.13v4.13h-4.13zM1045.64 356.1h4.13v4.13h-4.13zM1033.98 359.99h4.13v4.13h-4.13zM1049.53 359.99h4.13v4.13h-4.13zM1053.42 363.88h4.13v4.13h-4.13zM1057.31 367.77h4.13v4.13h-4.13zM1053.42 371.66h4.13v4.13h-4.13z" fill="#D99694" fill-rule="nonzero" clip-path="url(#c46)"/>
<circle cx="1048" cy="364.5" r="10.6" fill="none" stroke="#000" stroke-width="3.4"/>
<circle cx="1099.25" cy="442" r="10.6" fill="#fff"/>
<path d="M1088.42 429.99h4.13v4.13h-4.13zM1092.31 433.88h4.13v4.13h-4.13zM1096.2 437.77h4.13v4.13h-4.13zM1100.09 441.66h4.13v4.13h-4.13zM1107.87 441.66h4.13v4.13h-4.13zM1103.98 445.54h4.13v4.13h-4.13zM1100.09 449.43h4.13v4.13h-4.13z" fill="#D99694" fill-rule="nonzero" clip-path="url(#c47)"/>
<circle cx="1099.25" cy="442" r="10.6" fill="none" stroke="#000" stroke-width="3.4"/>
<circle cx="1136" cy="343.25" r="10.6" fill="#fff"/>
<path d="M1123.42 340.54h4.13v4.13h-4.13zM1127.31 344.43h4.13v4.13h-4.13zM1142.87 344.43h4.13v4.13h-4.13zM1131.2 348.32h4.13v4.13h-4.13zM1138.98 348.32h4.13v4.13h-4.13zM1135.09 352.21h4.13v4.13h-4.13z" fill="#D99694" fill-rule="nonzero" clip-path="url(#c48)"/>
<circle cx="1136" cy="343.25" r="10.6" fill="none" stroke="#000" stroke-width="3.4"/>
<circle cx="1224" cy="320" r="10.6" fill="#fff"/>
<path d="M1216.76 309.43h4.13v4.13h-4.13zM1220.64 313.32h4.13v4.13h-4.13zM1224.53 317.21h4.13v4.13h-4.13zM1232.31 317.21h4.13v4.13h-4.13zM1228.42 321.1h4.13v4.13h-4.13zM1224.53 324.99h4.13v4.13h-4.13zM1232.31 324.99h4.13v4.13h-4.13zM1220.64 328.88h4.13v4.13h-4.13z" fill="#D99694" fill-rule="nonzero" clip-path="url(#c49)"/>
<circle cx="1224" cy="320" r="10.6" fill="none" stroke="#000" stroke-width="3.4"/>
<circle cx="1312" cy="291.5" r="10.6" fill="#fff"/>
<path d="M1310.09 278.32h4.13v4.13h-4.13zM1313.98 282.21h4.13v4.13h-4.13zM1317.87 286.1h4.13v4.13h-4.13zM1321.76 289.99h4.13v4.13h-4.13zM1317.87 293.88h4.13v4.13h-4.13zM1313.98 297.77h4.13v4.13h-4.13zM1310.09 301.66h4.13v4.13h-4.13z" fill="#D99694" fill-rule="nonzero" clip-path="url(#c50)"/>
<circle cx="1312" cy="291.5" r="10.6" fill="none" stroke="#000" stroke-width="3.4"/>
<circle cx="1400" cy="251.7" r="10.6" fill="#fff"/>
<path d="M1395.65 239.43h4.13v4.13h-4.13zM1403.42 239.43h4.13v4.13h-4.13zM1399.53 243.32h4.13v4.13h-4.13zM1395.65 247.21h4.13v4.13h-4.13zM1403.42 247.21h4.13v4.13h-4.13zM1391.76 251.1h4.13v4.13h-4.13zM1407.31 251.1h4.13v4.13h-4.13zM1387.87 254.99h4.13v4.13h-4.13z" fill="#D99694" fill-rule="nonzero" clip-path="url(#c51)"/>
<circle cx="1400" cy="251.7" r="10.6" fill="none" stroke="#000" stroke-width="3.4"/>
<circle cx="1488" cy="225.85" r="10.6" fill="#fff"/>
<path d="M1488.98 216.1h4.13v4.13h-4.13zM1496.76 216.1h4.13v4.13h-4.13zM1485.09 219.99h4.13v4.13h-4.13zM1473.42 223.88h4.13v4.13h-4.13zM1481.2 223.88h4.13v4.13h-4.13zM1477.31 227.77h4.13v4.13h-4.13zM1481.2 231.66h4.13v4.13h-4.13zM1485.09 235.54h4.13v4.13h-4.13z" fill="#D99694" fill-rule="nonzero" clip-path="url(#c52)"/>
<circle cx="1488" cy="225.85" r="10.6" fill="none" stroke="#000" stroke-width="3.4"/>
<circle cx="1576" cy="220" r="10.6" fill="#fff"/>
<path d="M1582.31 208.32h4.13v4.13h-4.13zM1582.31 216.1h4.13v4.13h-4.13zM1562.87 219.99h4.13v4.13h-4.13zM1578.42 219.99h4.13v4.13h-4.13zM1566.76 223.88h4.13v4.13h-4.13zM1574.53 223.88h4.13v4.13h-4.13zM1570.65 227.77h4.13v4.13h-4.13z" fill="#D99694" fill-rule="nonzero" clip-path="url(#c53)"/>
<circle cx="1576" cy="220" r="10.6" fill="none" stroke="#000" stroke-width="3.4"/>
<circle cx="1664" cy="181.5" r="10.6" fill="#fff"/>
<path d="M1660.09 169.43h4.13v4.13h-4.13zM1667.87 169.43h4.13v4.13h-4.13zM1656.2 173.32h4.13v4.13h-4.13zM1671.76 173.32h4.13v4.13h-4.13zM1652.31 177.21h4.13v4.13h-4.13zM1652.31 184.99h4.13v4.13h-4.13zM1656.2 188.88h4.13v4.13h-4.13z" fill="#D99694" fill-rule="nonzero" clip-path="url(#c54)"/>
<circle cx="1664" cy="181.5" r="10.6" fill="none" stroke="#000" stroke-width="3.4"/>
<circle cx="1752" cy="300.25" r="10.6" fill="#fff"/>
<path d="M1753.42 286.1h4.13v4.13h-4.13zM1757.31 289.99h4.13v4.13h-4.13zM1753.42 293.88h4.13v4.13h-4.13zM1761.2 293.88h4.13v4.13h-4.13zM1749.54 297.77h4.13v4.13h-4.13zM1737.87 301.66h4.13v4.13h-4.13zM1745.65 301.66h4.13v4.13h-4.13zM1741.76 305.54h4.13v4.13h-4.13zM1745.65 309.43h4.13v4.13h-4.13z" fill="#D99694" fill-rule="nonzero" clip-path="url(#c55)"/>
<circle cx="1752" cy="300.25" r="10.6" fill="none" stroke="#000" stroke-width="3.4"/>
<circle cx="1048" cy="397.75" r="10.6" fill="#fff"/>
<path d="M1036.4 387.18h23.2v4.19h-23.2z" fill="#00B050" fill-rule="nonzero" clip-path="url(#c56)"/>
<circle cx="1048" cy="397.75" r="10.6" fill="none" stroke="#000" stroke-width="3.4"/>
<circle cx="1136" cy="380.25" r="10.6" fill="#fff"/>
<path d="M1124.4 387.18h23.2v4.19h-23.2z" fill="#00B050" fill-rule="nonzero" clip-path="url(#c57)"/>
<circle cx="1136" cy="380.25" r="10.6" fill="none" stroke="#000" stroke-width="3.4"/>
<circle cx="1224" cy="365.25" r="10.6" fill="#fff"/>
<path d="M1212.4 356.07h23.2v4.19h-23.2z" fill="#00B050" fill-rule="nonzero" clip-path="url(#c58)"/>
<circle cx="1224" cy="365.25" r="10.6" fill="none" stroke="#000" stroke-width="3.4"/>
<circle cx="1312" cy="352" r="10.6" fill="#fff"/>
<path d="M1300.4 356.07h23.2v4.19h-23.2z" fill="#00B050" fill-rule="nonzero" clip-path="url(#c59)"/>
<circle cx="1312" cy="352" r="10.6" fill="none" stroke="#000" stroke-width="3.4"/>
<circle cx="1400" cy="372.75" r="10.6" fill="#fff"/>
<circle cx="1400" cy="372.75" r="10.6" fill="none" stroke="#000" stroke-width="3.4"/>
<circle cx="1488" cy="396" r="10.6" fill="#fff"/>
<path d="M1476.4 387.18h23.2v4.19h-23.2z" fill="#00B050" fill-rule="nonzero" clip-path="url(#c61)"/>
<circle cx="1488" cy="396" r="10.6" fill="none" stroke="#000" stroke-width="3.4"/>
<circle cx="1576" cy="340" r="10.6" fill="#fff"/>
<circle cx="1576" cy="340" r="10.6" fill="none" stroke="#000" stroke-width="3.4"/>
<circle cx="1664" cy="320.6" r="10.6" fill="#fff"/>
<path d="M1652.4 324.96h23.2v4.19h-23.2z" fill="#00B050" fill-rule="nonzero" clip-path="url(#c63)"/>
<circle cx="1664" cy="320.6" r="10.6" fill="none" stroke="#000" stroke-width="3.4"/>
<circle cx="1752" cy="375.25" r="10.6" fill="#fff"/>
<circle cx="1752" cy="375.25" r="10.6" fill="none" stroke="#000" stroke-width="3.4"/>
<circle cx="1048" cy="372.75" r="10.6" fill="#8064A2"/>
<path d="M1053.54 360.11h3.89v3.89h-3.89zM1045.76 364h3.89v3.89h-3.89zM1037.99 367.89h3.89v3.89h-3.89zM1053.54 367.89h3.89v3.89h-3.89zM1045.76 371.78h3.89v3.89h-3.89zM1037.99 375.66h3.89v3.89h-3.89zM1053.54 375.66h3.89v3.89h-3.89zM1045.76 379.55h3.89v3.89h-3.89z" fill="#fff" fill-rule="nonzero" clip-path="url(#c65)"/>
<circle cx="1048" cy="372.75" r="10.6" fill="none" stroke="#000" stroke-width="3.4"/>
<circle cx="1136" cy="360.25" r="10.6" fill="#8064A2"/>
<path d="M1139.1 348.44h3.89v3.89h-3.89zM1131.32 352.33h3.89v3.89h-3.89zM1123.54 356.22h3.89v3.89h-3.89zM1139.1 356.22h3.89v3.89h-3.89zM1131.32 360.11h3.89v3.89h-3.89zM1123.54 364h3.89v3.89h-3.89zM1139.1 364h3.89v3.89h-3.89zM1131.32 367.89h3.89v3.89h-3.89z" fill="#fff" fill-rule="nonzero" clip-path="url(#c66)"/>
<circle cx="1136" cy="360.25" r="10.6" fill="none" stroke="#000" stroke-width="3.4"/>
<circle cx="1224" cy="392.75" r="10.6" fill="#8064A2"/>
<path d="M1216.88 379.55h3.89v3.89h-3.89zM1224.65 383.44h3.89v3.89h-3.89zM1216.88 387.33h3.89v3.89h-3.89zM1232.43 387.33h3.89v3.89h-3.89zM1224.65 391.22h3.89v3.89h-3.89zM1216.88 395.11h3.89v3.89h-3.89zM1232.43 395.11h3.89v3.89h-3.89zM1224.65 399h3.89v3.89h-3.89z" fill="#fff" fill-rule="nonzero" clip-path="url(#c67)"/>
<circle cx="1224" cy="392.75" r="10.6" fill="none" stroke="#000" stroke-width="3.4"/>
<circle cx="1312" cy="342" r="10.6" fill="#8064A2"/>
<path d="M1310.21 332.89h3.89v3.89h-3.89zM1302.43 336.78h3.89v3.89h-3.89zM1317.99 336.78h3.89v3.89h-3.89zM1310.21 340.66h3.89v3.89h-3.89zM1302.43 344.55h3.89v3.89h-3.89zM1317.99 344.55h3.89v3.89h-3.89zM1310.21 348.44h3.89v3.89h-3.89z" fill="#fff" fill-rule="nonzero" clip-path="url(#c68)"/>
<circle cx="1312" cy="342" r="10.6" fill="none" stroke="#000" stroke-width="3.4"/>
<circle cx="1400" cy="366" r="10.6" fill="#8064A2"/>
<path d="M1395.77 352.33h3.89v3.89h-3.89zM1387.99 356.22h3.89v3.89h-3.89zM1403.54 356.22h3.89v3.89h-3.89zM1395.77 360.11h3.89v3.89h-3.89zM1387.99 364h3.89v3.89h-3.89zM1403.54 364h3.89v3.89h-3.89zM1395.77 367.89h3.89v3.89h-3.89zM1387.99 371.78h3.89v3.89h-3.89zM1403.54 371.78h3.89v3.89h-3.89zM1395.77 375.66h3.89v3.89h-3.89z" fill="#fff" fill-rule="nonzero" clip-path="url(#c69)"/>
<circle cx="1400" cy="366" r="10.6" fill="none" stroke="#000" stroke-width="3.4"/>
<circle cx="1488" cy="323.75" r="10.6" fill="#8064A2"/>
<path d="M1489.1 313.44h3.89v3.89h-3.89zM1481.32 317.33h3.89v3.89h-3.89zM1496.88 317.33h3.89v3.89h-3.89zM1473.54 321.22h3.89v3.89h-3.89zM1489.1 321.22h3.89v3.89h-3.89zM1481.32 325.11h3.89v3.89h-3.89zM1496.88 325.11h3.89v3.89h-3.89zM1489.1 329h3.89v3.89h-3.89zM1481.32 332.89h3.89v3.89h-3.89z" fill="#fff" fill-rule="nonzero" clip-path="url(#c70)"/>
<circle cx="1488" cy="323.75" r="10.6" fill="none" stroke="#000" stroke-width="3.4"/>
<circle cx="1576" cy="304.7" r="10.6" fill="#8064A2"/>
<path d="M1574.65 294h3.89v3.89h-3.89zM1566.88 297.89h3.89v3.89h-3.89zM1582.43 297.89h3.89v3.89h-3.89zM1574.65 301.78h3.89v3.89h-3.89zM1566.88 305.66h3.89v3.89h-3.89zM1582.43 305.66h3.89v3.89h-3.89zM1574.65 309.55h3.89v3.89h-3.89zM1566.88 313.44h3.89v3.89h-3.89z" fill="#fff" fill-rule="nonzero" clip-path="url(#c71)"/>
<circle cx="1576" cy="304.7" r="10.6" fill="none" stroke="#000" stroke-width="3.4"/>
<circle cx="1664" cy="295.5" r="10.6" fill="#8064A2"/>
<path d="M1660.21 282.33h3.89v3.89h-3.89zM1652.43 286.22h3.89v3.89h-3.89zM1667.99 286.22h3.89v3.89h-3.89zM1660.21 290.11h3.89v3.89h-3.89zM1652.43 294h3.89v3.89h-3.89zM1667.99 294h3.89v3.89h-3.89zM1660.21 297.89h3.89v3.89h-3.89zM1652.43 301.78h3.89v3.89h-3.89zM1667.99 301.78h3.89v3.89h-3.89zM1660.21 305.66h3.89v3.89h-3.89z" fill="#fff" fill-rule="nonzero" clip-path="url(#c72)"/>
<circle cx="1664" cy="295.5" r="10.6" fill="none" stroke="#000" stroke-width="3.4"/>
<circle cx="1752" cy="346.5" r="10.6" fill="#8064A2"/>
<path d="M1745.77 332.89h3.89v3.89h-3.89zM1753.54 336.78h3.89v3.89h-3.89zM1745.77 340.66h3.89v3.89h-3.89zM1761.32 340.66h3.89v3.89h-3.89zM1737.99 344.55h3.89v3.89h-3.89zM1753.54 344.55h3.89v3.89h-3.89zM1745.77 348.44h3.89v3.89h-3.89zM1761.32 348.44h3.89v3.89h-3.89zM1753.54 352.33h3.89v3.89h-3.89zM1745.77 356.22h3.89v3.89h-3.89z" fill="#fff" fill-rule="nonzero" clip-path="url(#c73)"/>
<circle cx="1752" cy="346.5" r="10.6" fill="none" stroke="#000" stroke-width="3.4"/>
<circle cx="1048" cy="227" r="10.6" fill="#fff"/>
<path d="M1045.76 215.4h3.89v23.2h-3.89zM1036.4 216.22h23.2v3.89h-23.2zM1036.4 231.78h23.2v3.89h-23.2z" fill="#FF0000" fill-rule="nonzero" clip-path="url(#c74)"/>
<circle cx="1048" cy="227" r="10.6" fill="none" stroke="#000" stroke-width="3.4"/>
<circle cx="1136" cy="193.25" r="10.6" fill="#fff"/>
<path d="M1123.54 181.65h3.89v23.2h-3.89zM1139.1 181.65h3.89v23.2h-3.89zM1124.4 185.11h23.2v3.89h-23.2zM1124.4 200.66h23.2v3.89h-23.2z" fill="#FF0000" fill-rule="nonzero" clip-path="url(#c75)"/>
<circle cx="1136" cy="193.25" r="10.6" fill="none" stroke="#000" stroke-width="3.4"/>
<circle cx="1224" cy="168" r="10.6" fill="#fff"/>
<path d="M1216.88 156.4h3.89v23.2h-3.89zM1232.43 156.4h3.89v23.2h-3.89zM1212.4 154h23.2v3.89h-23.2zM1212.4 169.55h23.2v3.89h-23.2z" fill="#FF0000" fill-rule="nonzero" clip-path="url(#c76)"/>
<circle cx="1224" cy="168" r="10.6" fill="none" stroke="#000" stroke-width="3.4"/>
<circle cx="1312" cy="184" r="10.6" fill="#fff"/>
<path d="M1310.21 172.4h3.89v23.2h-3.89zM1300.4 169.55h23.2v3.89h-23.2zM1300.4 185.11h23.2v3.89h-23.2z" fill="#FF0000" fill-rule="nonzero" clip-path="url(#c77)"/>
<circle cx="1312" cy="184" r="10.6" fill="none" stroke="#000" stroke-width="3.4"/>
<circle cx="1400" cy="131" r="10.6" fill="#fff"/>
<path d="M1387.99 119.4h3.89v23.2h-3.89zM1403.54 119.4h3.89v23.2h-3.89zM1388.4 122.89h23.2v3.89h-23.2zM1388.4 138.44h23.2v3.89h-23.2z" fill="#FF0000" fill-rule="nonzero" clip-path="url(#c78)"/>
<circle cx="1400" cy="131" r="10.6" fill="none" stroke="#000" stroke-width="3.4"/>
<circle cx="1488" cy="106" r="10.6" fill="#fff"/>
<path d="M1481.32 94.4h3.89v23.2h-3.89zM1496.88 94.4h3.89v23.2h-3.89zM1476.4 91.77h23.2v3.89h-23.2zM1476.4 107.33h23.2v3.89h-23.2z" fill="#FF0000" fill-rule="nonzero" clip-path="url(#c79)"/>
<circle cx="1488" cy="106" r="10.6" fill="none" stroke="#000" stroke-width="3.4"/>
<circle cx="1576" cy="54.3" r="10.6" fill="#fff"/>
<path d="M1574.65 42.7h3.89v23.2h-3.89zM1564.4 45.11h23.2v3.89h-23.2zM1564.4 60.66h23.2v3.89h-23.2z" fill="#FF0000" fill-rule="nonzero" clip-path="url(#c80)"/>
<circle cx="1576" cy="54.3" r="10.6" fill="none" stroke="#000" stroke-width="3.4"/>
<circle cx="1664" cy="40.3" r="10.6" fill="#fff"/>
<path d="M1652.43 28.7h3.89v23.2h-3.89zM1667.99 28.7h3.89v23.2h-3.89zM1652.4 29.55h23.2v3.89h-23.2zM1652.4 45.11h23.2v3.89h-23.2z" fill="#FF0000" fill-rule="nonzero" clip-path="url(#c81)"/>
<circle cx="1664" cy="40.3" r="10.6" fill="none" stroke="#000" stroke-width="3.4"/>
<circle cx="1752" cy="163" r="10.6" fill="#fff"/>
<path d="M1745.77 151.4h3.89v23.2h-3.89zM1761.32 151.4h3.89v23.2h-3.89zM1740.4 154h23.2v3.89h-23.2zM1740.4 169.55h23.2v3.89h-23.2z" fill="#FF0000" fill-rule="nonzero" clip-path="url(#c82)"/>
<circle cx="1752" cy="163" r="10.6" fill="none" stroke="#000" stroke-width="3.4"/>
<circle cx="1048" cy="465.25" r="10.6" fill="#fff"/>
<path d="M1045.61 453.65h4.19v23.2h-4.19z" fill="#E8700C" fill-rule="nonzero" clip-path="url(#c83)"/>
<circle cx="1048" cy="465.25" r="10.6" fill="none" stroke="#000" stroke-width="3.4"/>
<circle cx="1136" cy="496" r="10.6" fill="#fff"/>
<path d="M1123.39 484.4h4.19v23.2h-4.19zM1138.95 484.4h4.19v23.2h-4.19z" fill="#E8700C" fill-rule="nonzero" clip-path="url(#c84)"/>
<circle cx="1136" cy="496" r="10.6" fill="none" stroke="#000" stroke-width="3.4"/>
<circle cx="1224" cy="511" r="10.6" fill="#fff"/>
<path d="M1216.73 499.4h4.19v23.2h-4.19zM1232.28 499.4h4.19v23.2h-4.19z" fill="#E8700C" fill-rule="nonzero" clip-path="url(#c85)"/>
<circle cx="1224" cy="511" r="10.6" fill="none" stroke="#000" stroke-width="3.4"/>
<circle cx="1312" cy="538" r="10.6" fill="#fff"/>
<path d="M1310.06 526.4h4.19v23.2h-4.19z" fill="#E8700C" fill-rule="nonzero" clip-path="url(#c86)"/>
<circle cx="1312" cy="538" r="10.6" fill="none" stroke="#000" stroke-width="3.4"/>
<circle cx="1400" cy="547.25" r="10.6" fill="#fff"/>
<path d="M1387.84 535.65h4.19v23.2h-4.19zM1403.39 535.65h4.19v23.2h-4.19z" fill="#E8700C" fill-rule="nonzero" clip-path="url(#c87)"/>
<circle cx="1400" cy="547.25" r="10.6" fill="none" stroke="#000" stroke-width="3.4"/>
<circle cx="1488" cy="566.75" r="10.6" fill="#fff"/>
<path d="M1481.17 555.15h4.19v23.2h-4.19zM1496.73 555.15h4.19v23.2h-4.19z" fill="#E8700C" fill-rule="nonzero" clip-path="url(#c88)"/>
<circle cx="1488" cy="566.75" r="10.6" fill="none" stroke="#000" stroke-width="3.4"/>
<circle cx="1576" cy="583.5" r="10.6" fill="#fff"/>
<path d="M1574.5 571.9h4.19v23.2h-4.19z" fill="#E8700C" fill-rule="nonzero" clip-path="url(#c89)"/>
<circle cx="1576" cy="583.5" r="10.6" fill="none" stroke="#000" stroke-width="3.4"/>
<circle cx="1664" cy="604" r="10.6" fill="#fff"/>
<path d="M1652.28 592.4h4.19v23.2h-4.19zM1667.84 592.4h4.19v23.2h-4.19z" fill="#E8700C" fill-rule="nonzero" clip-path="url(#c90)"/>
<circle cx="1664" cy="604" r="10.6" fill="none" stroke="#000" stroke-width="3.4"/>
<circle cx="1752" cy="517.25" r="10.6" fill="#fff"/>
<path d="M1745.62 505.65h4.19v23.2h-4.19zM1761.17 505.65h4.19v23.2h-4.19z" fill="#E8700C" fill-rule="nonzero" clip-path="url(#c91)"/>
<circle cx="1752" cy="517.25" r="10.6" fill="none" stroke="#000" stroke-width="3.4"/>
<circle cx="263.7" cy="390.7" r="10.6" fill="#00AEEF" stroke="#000" stroke-width="3.4"/>
<text transform="translate(287.09 404.7) scale(1.1368 1.01)">Z</text>
<circle cx="263.3" cy="431.2" r="10.6" fill="#fff"/>
<path d="M263.33 418.32h4.13v4.13h-4.13zM259.44 422.21h4.13v4.13h-4.13zM255.55 426.1h4.13v4.13h-4.13zM251.66 429.99h4.13v4.13h-4.13z" fill="#FF0000" fill-rule="nonzero" clip-path="url(#c92)"/>
<circle cx="263.3" cy="431.2" r="10.6" fill="none" stroke="#000" stroke-width="3.4"/>
<text transform="translate(287.84 451.1) scale(1.0109 1.01)">Y</text>
<circle cx="263.9" cy="475.2" r="10.6" fill="#fff"/>
<path d="M252.31 464.99h4.13v4.13h-4.13zM256.2 468.88h4.13v4.13h-4.13zM271.75 468.88h4.13v4.13h-4.13zM260.09 472.77h4.13v4.13h-4.13zM267.86 472.77h4.13v4.13h-4.13zM263.98 476.66h4.13v4.13h-4.13zM260.09 480.54h4.13v4.13h-4.13zM267.86 480.54h4.13v4.13h-4.13zM256.2 484.43h4.13v4.13h-4.13z" fill="#00B050" fill-rule="nonzero" clip-path="url(#c93)"/>
<circle cx="263.9" cy="475.2" r="10.6" fill="none" stroke="#000" stroke-width="3.4"/>
<text transform="translate(292.39 493.5) scale(1.0646 1.01)">J</text>
<circle cx="263.7" cy="525" r="10.6" fill="#fff"/>
<path d="M267.21 511.66h4.13v4.13h-4.13zM259.44 519.43h4.13v4.13h-4.13zM251.66 527.21h4.13v4.13h-4.13zM267.21 527.21h4.13v4.13h-4.13zM259.44 534.99h4.13v4.13h-4.13z" fill="#E020C0" fill-rule="nonzero" clip-path="url(#c94)"/>
<circle cx="263.7" cy="525" r="10.6" fill="none" stroke="#000" stroke-width="3.4"/>
<text transform="translate(287.92 536.3) scale(1.0550 1.01)">S</text>
<circle cx="264.2" cy="569.2" r="10.6" fill="#fff"/>
<path d="M267.83 557.6h4.19v23.2h-4.19z" fill="#7030A0" fill-rule="nonzero" clip-path="url(#c95)"/>
<circle cx="264.2" cy="569.2" r="10.6" fill="none" stroke="#000" stroke-width="3.4"/>
<text transform="translate(286.86 585.6) scale(1.0295 1.01)">K</text>
<circle cx="1117.1" cy="19.7" r="10.6" fill="#fff"/>
<path d="M1115.64 6.1h4.13v4.13h-4.13zM1107.87 13.88h4.13v4.13h-4.13zM1123.42 13.88h4.13v4.13h-4.13zM1115.64 21.65h4.13v4.13h-4.13z" fill="#00AEEF" fill-rule="nonzero" clip-path="url(#c96)"/>
<circle cx="1117.1" cy="19.7" r="10.6" fill="none" stroke="#000" stroke-width="3.4"/>
<text transform="translate(1143.64 33) scale(1.0480 1.01)">E</text>
<circle cx="1116.7" cy="60.3" r="10.6" fill="#fff"/>
<path d="M1111.76 48.88h4.13v4.13h-4.13zM1115.64 52.77h4.13v4.13h-4.13zM1123.42 52.77h4.13v4.13h-4.13zM1119.53 56.65h4.13v4.13h-4.13zM1115.64 60.54h4.13v4.13h-4.13zM1123.42 60.54h4.13v4.13h-4.13zM1111.76 64.43h4.13v4.13h-4.13zM1107.87 68.32h4.13v4.13h-4.13z" fill="#D99694" fill-rule="nonzero" clip-path="url(#c97)"/>
<circle cx="1116.7" cy="60.3" r="10.6" fill="none" stroke="#000" stroke-width="3.4"/>
<text transform="translate(1142.8 79) scale(0.9978 1.01)">F</text>
<circle cx="1117.2" cy="104.2" r="10.6" fill="#fff"/>
<path d="M1105.6 107.18h23.2v4.19h-23.2z" fill="#00B050" fill-rule="nonzero" clip-path="url(#c98)"/>
<circle cx="1117.2" cy="104.2" r="10.6" fill="none" stroke="#000" stroke-width="3.4"/>
<text transform="translate(1140.88 121.2) scale(1.0328 1.01)">G</text>
<circle cx="1239" cy="18" r="10.6" fill="#8064A2"/>
<path d="M1232.43 6.22h3.89v3.89h-3.89zM1240.21 10.11h3.89v3.89h-3.89zM1232.43 14h3.89v3.89h-3.89zM1247.99 14h3.89v3.89h-3.89zM1224.65 17.89h3.89v3.89h-3.89zM1240.21 17.89h3.89v3.89h-3.89zM1232.43 21.77h3.89v3.89h-3.89zM1247.99 21.77h3.89v3.89h-3.89zM1240.21 25.66h3.89v3.89h-3.89z" fill="#fff" fill-rule="nonzero" clip-path="url(#c99)"/>
<circle cx="1239" cy="18" r="10.6" fill="none" stroke="#000" stroke-width="3.4"/>
<text transform="translate(1264.67 30.9) scale(1.0272 1.01)">H</text>
<circle cx="1239.7" cy="61.9" r="10.6" fill="#fff"/>
<path d="M1232.43 50.3h3.89v23.2h-3.89zM1247.99 50.3h3.89v23.2h-3.89zM1228.1 60.66h23.2v3.89h-23.2z" fill="#FF0000" fill-rule="nonzero" clip-path="url(#c100)"/>
<circle cx="1239.7" cy="61.9" r="10.6" fill="none" stroke="#000" stroke-width="3.4"/>
<text transform="translate(1270.29 79) scale(1.0612 1.01)">I</text>
<circle cx="1239.75" cy="105.85" r="10.6" fill="#fff"/>
<path d="M1232.28 94.25h4.19v23.2h-4.19zM1247.84 94.25h4.19v23.2h-4.19z" fill="#E8700C" fill-rule="nonzero" clip-path="url(#c101)"/>
<circle cx="1239.75" cy="105.85" r="10.6" fill="none" stroke="#000" stroke-width="3.4"/>
<text transform="translate(1263.41 125.1) scale(1.0437 1.01)">X</text>
</svg>
</body></html>
